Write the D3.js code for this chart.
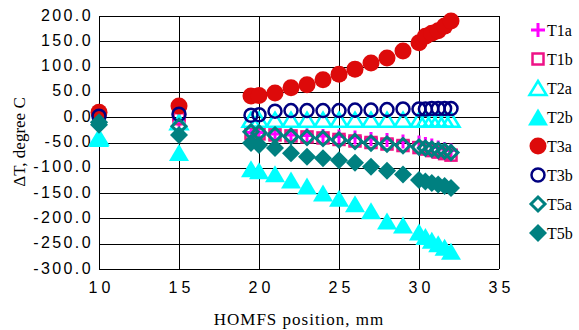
<!DOCTYPE html>
<html>
<head>
<meta charset="utf-8">
<script src="https://cdn.jsdelivr.net/npm/d3@7"></script>
<style>
  body { margin: 0; background: #fff; }
  svg { display: block; font-family: "Liberation Serif", "Times New Roman", serif; }
  .axis path.domain { display: none; }
  .axis line { stroke: #000; stroke-width: 1; shape-rendering: crispEdges; }
  .axis text { fill: #000; font-size: 16px; }
  .y-axis text { letter-spacing: 2.4px; }
  .x-axis text { letter-spacing: 4px; }
</style>
</head>
<body>
<div id="chart"></div>
<script>
const xValues = [10, 15, 19.5, 20, 21, 22, 23, 24, 25, 26, 27, 28, 29, 30, 30.4, 30.8, 31.2, 31.6, 32];

const t1a = [-2, -5, -30, -30, -33, -35, -36, -37, -38, -40, -43, -45, -48, -50, -53, -56, -60, -63, -66];
const t1b = [0, -3, -32, -33, -35, -37, -39, -41, -44, -47, -50, -53, -56, -60, -63, -66, -69, -72, -75];
const t2a = [-40, -10, -5, -5, -5, -5, -5, -5, -5, -5, -5, -5, -5, -5, -5, -5, -5, -5, -5];
const t2b = [-42, -70, -102, -106, -112, -124, -136, -150, -160, -171, -185, -205, -213, -227, -236, -243, -250, -257, -265];
const t3a = [10, 22, 42, 43, 48, 58, 64, 74, 85, 95, 107, 117, 131, 147, 160, 166, 171, 180, 190];
const t3b = [2, 6, 4, 5, 12, 13, 13, 13, 13, 14, 14, 15, 16, 16, 16, 17, 17, 17, 17];
const t5a = [-10, -18, -29, -31, -35, -38, -40, -42, -45, -48, -51, -53, -56, -59, -61, -63, -65, -67, -70];
const t5b = [-15, -35, -51, -55, -61, -71, -78, -81, -85, -90, -98, -106, -113, -124, -127, -130, -133, -136, -140];

const xTicks = [10, 15, 20, 25, 30, 35];
const yTicks = [-300, -250, -200, -150, -100, -50, 0, 50, 100, 150, 200];

const series = [
  { name: "T1a", values: t1a, marker: "plus", color: "#ff00ff" },
  { name: "T1b", values: t1b, marker: "square", color: "#ee1287" },
  { name: "T2a", values: t2a, marker: "triangleOpen", color: "#00ffff" },
  { name: "T2b", values: t2b, marker: "triangle", color: "#00ffff" },
  { name: "T3a", values: t3a, marker: "circle", color: "#dd0a0a" },
  { name: "T3b", values: t3b, marker: "circleOpen", color: "#000080" },
  { name: "T5a", values: t5a, marker: "diamondOpen", color: "#008080" },
  { name: "T5b", values: t5b, marker: "diamond", color: "#008080" }
];

const width = 579, height = 330;
const margin = { top: 16, right: 80, bottom: 61, left: 99 };

const svg = d3.select("#chart").append("svg")
  .attr("width", width)
  .attr("height", height);

const x = d3.scaleLinear().domain([10, 35]).range([margin.left, width - margin.right]);
const y = d3.scaleLinear().domain([-300, 200]).range([height - margin.bottom, margin.top]);
const plotW = x.range()[1] - x.range()[0];
const plotH = y.range()[0] - y.range()[1];

// horizontal gridlines + y labels
svg.append("g")
  .attr("class", "axis y-axis")
  .attr("transform", `translate(${margin.left},0)`)
  .call(d3.axisLeft(y).tickValues(yTicks).tickSize(-plotW).tickPadding(6).tickFormat(d => d.toFixed(1)))
  .call(g => g.selectAll("text").attr("dy", "0.25em"));

// vertical gridlines + x labels
svg.append("g")
  .attr("class", "axis x-axis")
  .attr("transform", `translate(0,${y(-300)})`)
  .call(d3.axisBottom(x).tickValues(xTicks).tickSize(-plotH).tickPadding(13).tickFormat(d3.format("d")))
  .call(g => g.selectAll("text").attr("dx", "2px"));

// left axis line
svg.append("line")
  .attr("x1", x(10)).attr("x2", x(10))
  .attr("y1", y(200)).attr("y2", y(-300))
  .attr("stroke", "#000").attr("shape-rendering", "crispEdges");

function drawMarker(sel, marker, color) {
  switch (marker) {
    case "plus":
      sel.append("path").attr("d", "M-7,0H7M0,-7V7")
        .attr("stroke", color).attr("stroke-width", 3).attr("fill", "none");
      break;
    case "square":
      sel.append("rect").attr("x", -5.5).attr("y", -5.5).attr("width", 11).attr("height", 11)
        .attr("stroke", color).attr("stroke-width", 2.5).attr("fill", "none");
      break;
    case "triangleOpen":
      sel.append("path").attr("d", "M0,-7L8.5,7L-8.5,7Z")
        .attr("stroke", color).attr("stroke-width", 2.5).attr("fill", "none").attr("stroke-linejoin", "miter");
      break;
    case "triangle":
      sel.append("path").attr("d", "M0,-8.5L10,8.5L-10,8.5Z").attr("fill", color);
      break;
    case "circle":
      sel.append("circle").attr("r", 8.5).attr("fill", color);
      break;
    case "circleOpen":
      sel.append("circle").attr("r", 6.5)
        .attr("stroke", color).attr("stroke-width", 2.5).attr("fill", "none");
      break;
    case "diamondOpen":
      sel.append("path").attr("d", "M0,-7L7,0L0,7L-7,0Z")
        .attr("stroke", color).attr("stroke-width", 3).attr("fill", "none");
      break;
    case "diamond":
      sel.append("path").attr("d", "M0,-9L9,0L0,9L-9,0Z").attr("fill", color);
      break;
  }
}

// data markers
series.forEach(s => {
  const g = svg.append("g").attr("class", "series");
  s.values.forEach((v, i) => {
    const m = g.append("g").attr("transform", `translate(${x(xValues[i])},${y(v)})`);
    drawMarker(m, s.marker, s.color);
  });
});

// legend
const legend = svg.append("g").attr("class", "legend");
series.forEach((s, i) => {
  const item = legend.append("g").attr("transform", `translate(538,${30 + i * 29})`);
  drawMarker(item, s.marker, s.color);
  item.append("text")
    .attr("x", 9).attr("y", 5.5)
    .attr("font-size", 16)
    .text(s.name);
});

// axis titles
svg.append("text")
  .attr("x", (x(10) + x(35)) / 2)
  .attr("y", 325)
  .attr("text-anchor", "middle")
  .attr("font-size", 17)
  .attr("letter-spacing", "1px")
  .text("HOMFS position, mm");

svg.append("text")
  .attr("transform", `translate(25,142) rotate(-90)`)
  .attr("text-anchor", "middle")
  .attr("font-size", 17)
  .text("ΔT, degree C");
</script>
</body>
</html>
